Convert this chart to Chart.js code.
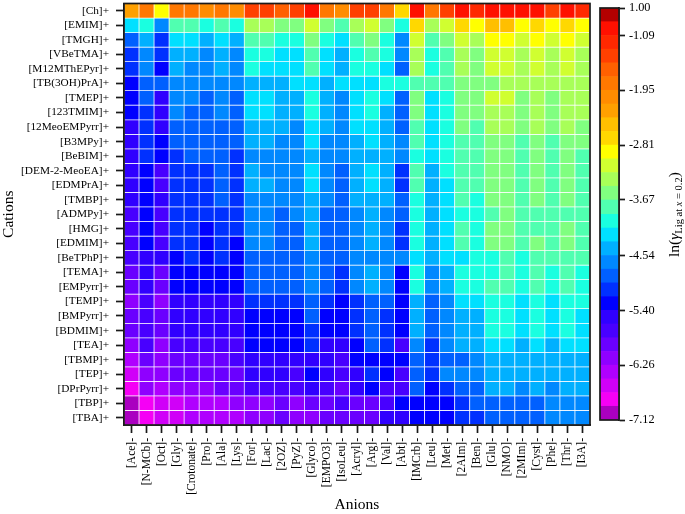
<!DOCTYPE html>
<html>
<head>
<meta charset="utf-8">
<title>Heatmap</title>
<script src="https://cdn.jsdelivr.net/npm/chart.js@4"></script>
<style>
    body { margin: 0; background: #fff; }
    canvas { position: absolute; top: 0; }
    #heatmap { left: 0; }
    #colorbar { left: 590px; }
</style>
</head>
<body>
<canvas id="heatmap" width="592" height="514"></canvas>
<canvas id="colorbar" width="95" height="514"></canvas>
<script>
const cations = ["[Ch]+", "[EMIM]+", "[TMGH]+", "[VBeTMA]+", "[M12MThEPyr]+", "[TB(3OH)PrA]+", "[TMEP]+", "[123TMIM]+",
    "[12MeoEMPyrr]+", "[B3MPy]+", "[BeBIM]+", "[DEM-2-MeoEA]+", "[EDMPrA]+", "[TMBP]+", "[ADMPy]+", "[HMG]+", "[EDMIM]+",
    "[BeTPhP]+", "[TEMA]+", "[EMPyrr]+", "[TEMP]+", "[BMPyrr]+", "[BDMIM]+", "[TEA]+", "[TBMP]+", "[TEP]+", "[DPrPyrr]+",
    "[TBP]+", "[TBA]+"];

const anions = ["[Ace]-", "[N-MCb]-", "[Oct]-", "[Gly]-", "[Crotonate]-", "[Pro]-", "[Ala]-", "[Lys]-", "[For]-", "[Lac]-",
    "[2OZ]-", "[PyZ]-", "[Glyco]-", "[EMPO3]-", "[IsoLeu]-", "[Acryl]-", "[Arg]-", "[Val]-", "[Abt]-", "[IMCrb]-", "[Leu]-",
    "[Met]-", "[2AIm]-", "[Ben]-", "[Glu]-", "[NMO]-", "[2MIm]-", "[Cyst]-", "[Phe]-", "[Thr]-", "[I3A]-"];

// one row per cation
const values = [
    [-2.28,-1.85,-2.93,-1.85,-1.85,-2.07,-1.85,-2.07,-1.42,-1.42,-1.64,-1.42,-0.99,-1.85,-2.07,-1.42,-1.42,-1.85,-2.71,-0.99,-1.85,-1.42,-0.99,-1.21,-0.99,-0.99,-0.99,-0.99,-1.42,-0.99,-1.21],
    [-4.22,-4.00,-4.65,-3.79,-3.79,-4.00,-3.79,-4.00,-3.36,-3.36,-3.57,-3.57,-3.14,-3.57,-3.79,-3.36,-3.14,-3.57,-4.00,-2.71,-3.36,-3.14,-2.71,-2.93,-2.50,-2.50,-2.93,-2.71,-2.93,-2.71,-2.93],
    [-4.86,-4.43,-5.08,-4.22,-4.22,-4.43,-4.22,-4.43,-3.79,-3.79,-4.00,-4.00,-3.57,-4.00,-4.22,-3.79,-3.57,-4.00,-4.65,-3.14,-3.79,-3.57,-3.14,-3.36,-2.93,-2.93,-3.14,-2.93,-3.14,-2.93,-3.14],
    [-5.08,-4.65,-5.08,-4.43,-4.43,-4.65,-4.43,-4.65,-4.00,-4.00,-4.22,-4.22,-3.79,-4.22,-4.43,-4.00,-3.79,-4.00,-4.65,-3.36,-4.00,-3.79,-3.36,-3.57,-3.14,-3.14,-3.36,-3.14,-3.36,-3.14,-3.36],
    [-5.08,-4.65,-5.29,-4.43,-4.65,-4.65,-4.43,-4.65,-4.00,-4.22,-4.22,-4.22,-3.79,-4.22,-4.43,-4.00,-4.00,-4.22,-4.86,-3.36,-4.00,-3.79,-3.36,-3.57,-3.14,-3.14,-3.36,-3.14,-3.36,-3.14,-3.36],
    [-5.29,-4.86,-4.86,-4.65,-4.65,-4.65,-4.65,-4.65,-4.43,-4.43,-4.43,-4.22,-4.22,-4.43,-4.22,-4.22,-4.22,-4.00,-4.00,-3.79,-3.79,-3.79,-3.57,-3.57,-3.57,-3.36,-3.36,-3.36,-3.36,-3.36,-3.36],
    [-5.29,-4.86,-5.51,-4.65,-4.65,-4.86,-4.65,-4.86,-4.22,-4.22,-4.43,-4.43,-4.00,-4.43,-4.65,-4.22,-4.00,-4.22,-4.86,-3.57,-4.22,-4.00,-3.57,-3.57,-3.14,-3.14,-3.57,-3.36,-3.57,-3.36,-3.36],
    [-5.29,-5.08,-5.51,-4.65,-4.86,-4.86,-4.65,-4.86,-4.22,-4.22,-4.43,-4.43,-4.00,-4.43,-4.65,-4.22,-4.00,-4.43,-4.86,-3.57,-4.22,-4.00,-3.57,-3.57,-3.36,-3.36,-3.57,-3.36,-3.57,-3.36,-3.36],
    [-5.51,-5.08,-5.51,-4.86,-4.86,-4.86,-4.86,-4.86,-4.43,-4.43,-4.43,-4.65,-4.22,-4.43,-4.65,-4.22,-4.22,-4.43,-4.86,-3.79,-4.22,-4.00,-3.57,-3.79,-3.36,-3.36,-3.57,-3.36,-3.57,-3.36,-3.57],
    [-5.51,-5.08,-5.29,-4.86,-4.86,-4.86,-4.86,-4.86,-4.43,-4.43,-4.65,-4.65,-4.22,-4.65,-4.65,-4.43,-4.22,-4.43,-4.65,-3.79,-4.22,-4.00,-3.79,-3.79,-3.57,-3.57,-3.79,-3.57,-3.79,-3.57,-3.57],
    [-5.51,-5.08,-5.29,-5.08,-4.86,-4.86,-4.86,-5.08,-4.65,-4.65,-4.65,-4.65,-4.43,-4.65,-4.65,-4.43,-4.43,-4.43,-4.65,-4.00,-4.22,-4.00,-3.79,-3.79,-3.57,-3.57,-3.79,-3.57,-3.79,-3.57,-3.79],
    [-5.51,-5.29,-5.72,-5.08,-5.08,-5.08,-4.86,-5.08,-4.43,-4.65,-4.65,-4.65,-4.22,-4.65,-4.86,-4.43,-4.22,-4.43,-5.08,-3.79,-4.43,-4.00,-3.79,-3.79,-3.57,-3.57,-3.79,-3.57,-3.79,-3.57,-3.79],
    [-5.51,-5.29,-5.72,-5.08,-5.08,-5.08,-4.86,-5.08,-4.43,-4.43,-4.65,-4.65,-4.22,-4.65,-4.86,-4.43,-4.22,-4.43,-5.08,-3.79,-4.43,-4.22,-3.79,-3.79,-3.57,-3.57,-3.79,-3.57,-3.79,-3.57,-3.79],
    [-5.51,-5.29,-5.51,-5.08,-5.08,-5.08,-4.86,-5.08,-4.65,-4.65,-4.65,-4.65,-4.43,-4.65,-4.86,-4.43,-4.43,-4.43,-4.86,-4.00,-4.43,-4.22,-3.79,-4.00,-3.57,-3.57,-3.79,-3.57,-3.79,-3.57,-3.79],
    [-5.72,-5.29,-5.72,-5.08,-5.08,-5.08,-5.08,-5.08,-4.65,-4.65,-4.86,-4.65,-4.43,-4.86,-4.86,-4.65,-4.43,-4.65,-4.86,-4.00,-4.43,-4.22,-4.00,-4.00,-3.79,-3.57,-3.79,-3.79,-3.79,-3.79,-3.79],
    [-5.72,-5.29,-5.72,-5.08,-5.08,-5.29,-5.08,-5.08,-4.65,-4.65,-4.86,-4.86,-4.43,-4.86,-4.86,-4.65,-4.43,-4.65,-5.08,-4.00,-4.43,-4.22,-3.79,-4.00,-3.57,-3.57,-3.79,-3.79,-3.79,-3.57,-3.79],
    [-5.72,-5.29,-5.72,-5.08,-5.08,-5.29,-5.08,-5.29,-4.65,-4.65,-4.86,-4.86,-4.43,-4.86,-4.86,-4.65,-4.43,-4.65,-5.08,-4.00,-4.43,-4.22,-3.79,-4.00,-3.57,-3.57,-3.79,-3.57,-3.79,-3.57,-3.79],
    [-5.72,-5.51,-5.51,-5.29,-5.08,-5.29,-5.08,-5.29,-4.86,-4.86,-4.86,-4.86,-4.65,-4.86,-4.86,-4.65,-4.65,-4.65,-4.65,-4.22,-4.43,-4.22,-4.22,-4.00,-4.00,-3.79,-4.00,-3.79,-3.79,-3.79,-3.79],
    [-5.94,-5.51,-5.94,-5.29,-5.29,-5.29,-5.29,-5.29,-4.86,-4.86,-4.86,-4.86,-4.65,-4.86,-5.08,-4.65,-4.43,-4.65,-5.29,-4.00,-4.65,-4.43,-4.00,-4.00,-4.00,-3.79,-4.00,-3.79,-4.00,-3.79,-4.00],
    [-5.94,-5.51,-5.94,-5.29,-5.29,-5.29,-5.29,-5.29,-4.86,-4.86,-4.86,-4.86,-4.65,-4.86,-5.08,-4.65,-4.43,-4.65,-5.29,-4.00,-4.65,-4.43,-4.00,-4.00,-3.79,-3.79,-4.00,-3.79,-4.00,-3.79,-4.00],
    [-6.15,-5.72,-6.15,-5.51,-5.51,-5.51,-5.51,-5.51,-5.08,-5.08,-5.08,-5.08,-4.86,-5.08,-5.29,-5.08,-4.86,-4.86,-5.29,-4.43,-4.86,-4.65,-4.22,-4.22,-4.00,-4.00,-4.22,-4.00,-4.22,-4.00,-4.00],
    [-5.94,-5.72,-5.94,-5.51,-5.51,-5.51,-5.51,-5.51,-5.29,-5.29,-5.29,-5.29,-4.86,-5.29,-5.29,-5.08,-4.86,-5.08,-5.29,-4.43,-4.86,-4.65,-4.43,-4.43,-4.00,-4.00,-4.22,-4.00,-4.22,-4.00,-4.22],
    [-5.94,-5.72,-5.94,-5.51,-5.51,-5.51,-5.51,-5.51,-5.29,-5.29,-5.29,-5.29,-5.08,-5.29,-5.29,-5.08,-4.86,-5.08,-5.29,-4.43,-4.86,-4.65,-4.43,-4.43,-4.00,-4.00,-4.22,-4.00,-4.22,-4.00,-4.22],
    [-6.15,-5.72,-6.15,-5.72,-5.72,-5.72,-5.72,-5.72,-5.29,-5.29,-5.29,-5.29,-5.08,-5.51,-5.51,-5.29,-4.86,-5.08,-5.72,-4.65,-5.08,-4.65,-4.43,-4.43,-4.22,-4.22,-4.43,-4.22,-4.43,-4.22,-4.22],
    [-6.37,-5.94,-6.15,-5.94,-5.94,-5.94,-5.94,-5.72,-5.51,-5.51,-5.51,-5.51,-5.51,-5.51,-5.72,-5.29,-5.29,-5.29,-5.29,-4.86,-5.08,-4.86,-4.86,-4.65,-4.43,-4.43,-4.43,-4.43,-4.43,-4.43,-4.43],
    [-6.58,-6.15,-6.15,-5.94,-5.94,-5.94,-5.94,-5.94,-5.51,-5.51,-5.51,-5.72,-5.29,-5.51,-5.72,-5.51,-5.08,-5.29,-5.72,-4.86,-5.08,-4.65,-4.65,-4.65,-4.43,-4.43,-4.43,-4.43,-4.43,-4.43,-4.43],
    [-6.80,-6.15,-6.37,-6.15,-6.15,-6.15,-5.94,-5.94,-5.72,-5.72,-5.72,-5.72,-5.51,-5.72,-5.94,-5.51,-5.29,-5.72,-5.72,-4.86,-5.29,-5.08,-4.86,-4.86,-4.43,-4.43,-4.65,-4.43,-4.65,-4.43,-4.43],
    [-7.01,-6.80,-6.58,-6.58,-6.37,-6.37,-6.37,-6.15,-6.15,-6.15,-5.94,-6.15,-5.94,-5.94,-5.72,-5.94,-5.94,-5.72,-5.29,-5.29,-5.29,-5.29,-5.08,-4.86,-4.86,-4.86,-4.86,-4.86,-4.65,-4.65,-4.65],
    [-7.01,-6.80,-6.58,-6.58,-6.37,-6.37,-6.37,-6.37,-6.15,-6.15,-5.94,-6.15,-6.15,-5.94,-5.94,-5.94,-5.94,-5.51,-5.51,-5.29,-5.29,-5.29,-5.08,-5.08,-4.86,-4.86,-4.86,-4.86,-4.65,-4.65,-4.65]
];

// colour bar: 30 bands, lowest first
const bandEdges = [-7.12,-6.905,-6.69,-6.475,-6.26,-6.045,-5.83,-5.615,-5.40,-5.185,-4.97,-4.755,-4.54,-4.325,-4.11,-3.895,
    -3.67,-3.455,-3.24,-3.025,-2.81,-2.595,-2.38,-2.165,-1.95,-1.735,-1.52,-1.305,-1.09,-0.875,-0.66];

const bandColors = ["#aa00c0", "#f500f5", "#d000f8", "#b000ff", "#8f00ff", "#6a00ff", "#4800ff", "#3000ff", "#0000ff", "#0030ff",
    "#0060ff", "#0088ff", "#00b0ff", "#00e0ff", "#1affe0", "#50ffb0", "#80ff80", "#a8ff58", "#d0ff30", "#ffff00",
    "#ffd800", "#ffbf00", "#ffa000", "#ff8c00", "#ff7800", "#ff6000", "#ff4000", "#ff2800", "#ff1000", "#b30000"];

const barTickValues = [-0.66, -1.09, -1.95, -2.81, -3.67, -4.54, -5.40, -6.26, -7.12];
const barTickLabels = ["1.00", "-1.09", "-1.95", "-2.81", "-3.67", "-4.54", "-5.40", "-6.26", "-7.12"];

const serif = "Liberation Serif";
const dark = "#1a1a1a";

function colorFor(v) {
    let i = bandEdges.findIndex((edge, k) => v >= edge && v < bandEdges[k + 1]);
    return bandColors[i];
}

// frame around the plot, drawn over the cells
const framePlugin = {
    id: "frame",
    afterDraw(chart) {
        const { ctx, chartArea: a } = chart;
        ctx.save();
        ctx.strokeStyle = dark;
        ctx.lineWidth = 1.7;
        ctx.strokeRect(a.left, a.top, a.right - a.left, a.bottom - a.top);
        ctx.restore();
    }
};

// colour bar title, the subscript needs its own pieces of text
const barTitlePlugin = {
    id: "barTitle",
    afterDraw(chart) {
        const ctx = chart.ctx;
        const parts = [
            ["ln(", "15.5px", 0], ["γ", "italic 15.5px", 0], ["Lig at ", "10.5px", 3], ["x", "italic 10.5px", 3],
            [" = 0.2", "10.5px", 3], [")", "15.5px", 0]
        ];
        ctx.save();
        ctx.translate(89, 257);
        ctx.rotate(-Math.PI / 2);
        ctx.fillStyle = "#000";
        let x = 0;
        parts.forEach(p => {
            ctx.font = p[1] + " " + serif;
            ctx.fillText(p[0], x, p[2]);
            x += ctx.measureText(p[0]).width;
        });
        ctx.restore();
    }
};

new Chart(document.getElementById("heatmap"), {
    type: "bar",
    plugins: [framePlugin],
    data: {
        labels: anions,
        datasets: cations.map((name, r) => ({
            label: name,
            data: values[r].map(() => [r, r + 1]),
            backgroundColor: values[r].map(v => colorFor(v)),
            borderColor: "#fff",
            borderWidth: 0.7,
            borderSkipped: false,
            grouped: false,
            barPercentage: 1,
            categoryPercentage: 1
        }))
    },
    options: {
        responsive: false,
        animation: false,
        layout: { padding: { top: 3.5, right: 2 } },
        plugins: { legend: { display: false }, tooltip: { enabled: false } },
        scales: {
            x: {
                grid: { offset: false, drawOnChartArea: false, tickLength: 8, tickWidth: 1.7, tickColor: dark },
                border: { color: dark, width: 1.7 },
                ticks: { minRotation: 90, maxRotation: 90, autoSkip: false, padding: 5, color: "#000", font: { family: serif, size: 11.5 } },
                title: { display: true, text: "Anions", color: "#000", font: { family: serif, size: 15.5 }, padding: { top: 0, bottom: 0 } },
                afterFit(scale) {
                    scale.height = 89;
                    scale.paddingLeft = 0;
                    scale.paddingRight = 0;
                }
            },
            y: {
                reverse: true,
                min: 0,
                max: cations.length,
                afterBuildTicks(scale) { scale.ticks = cations.map((c, i) => ({ value: i + 0.5 })); },
                grid: { drawOnChartArea: false, tickLength: 8, tickWidth: 1.7, tickColor: dark },
                border: { color: dark, width: 1.7 },
                ticks: { autoSkip: false, padding: 7, color: "#000", font: { family: serif, size: 11.3 }, callback: (v, i) => cations[i] },
                title: { display: true, text: "Cations", color: "#000", font: { family: serif, size: 15.5 }, padding: { top: 0, bottom: 0 } },
                afterFit(scale) {
                    scale.width = 124;
                    scale.paddingTop = 0;
                    scale.paddingBottom = 0;
                }
            }
        }
    }
});

new Chart(document.getElementById("colorbar"), {
    type: "bar",
    plugins: [framePlugin, barTitlePlugin],
    data: {
        labels: ["bar"],
        datasets: bandColors.map((c, i) => ({
            data: [[bandEdges[i], bandEdges[i + 1]]],
            backgroundColor: c,
            grouped: false,
            barPercentage: 1,
            categoryPercentage: 1
        }))
    },
    options: {
        responsive: false,
        animation: false,
        layout: { padding: { left: 10, right: 0, top: 8, bottom: 94 } },
        plugins: { legend: { display: false }, tooltip: { enabled: false } },
        scales: {
            x: { display: false },
            y: {
                position: "right",
                min: -7.12,
                max: -0.66,
                afterBuildTicks(scale) { scale.ticks = barTickValues.map(v => ({ value: v })); },
                grid: { drawOnChartArea: false, tickLength: 6, tickWidth: 1.7, tickColor: dark },
                border: { color: dark, width: 1.7 },
                ticks: { autoSkip: false, padding: 4, color: "#000", font: { family: serif, size: 12.3 }, callback: (v, i) => barTickLabels[i] },
                afterFit(scale) {
                    scale.width = 66;
                    scale.paddingTop = 0;
                    scale.paddingBottom = 0;
                }
            }
        }
    }
});
</script>
</body>
</html>
